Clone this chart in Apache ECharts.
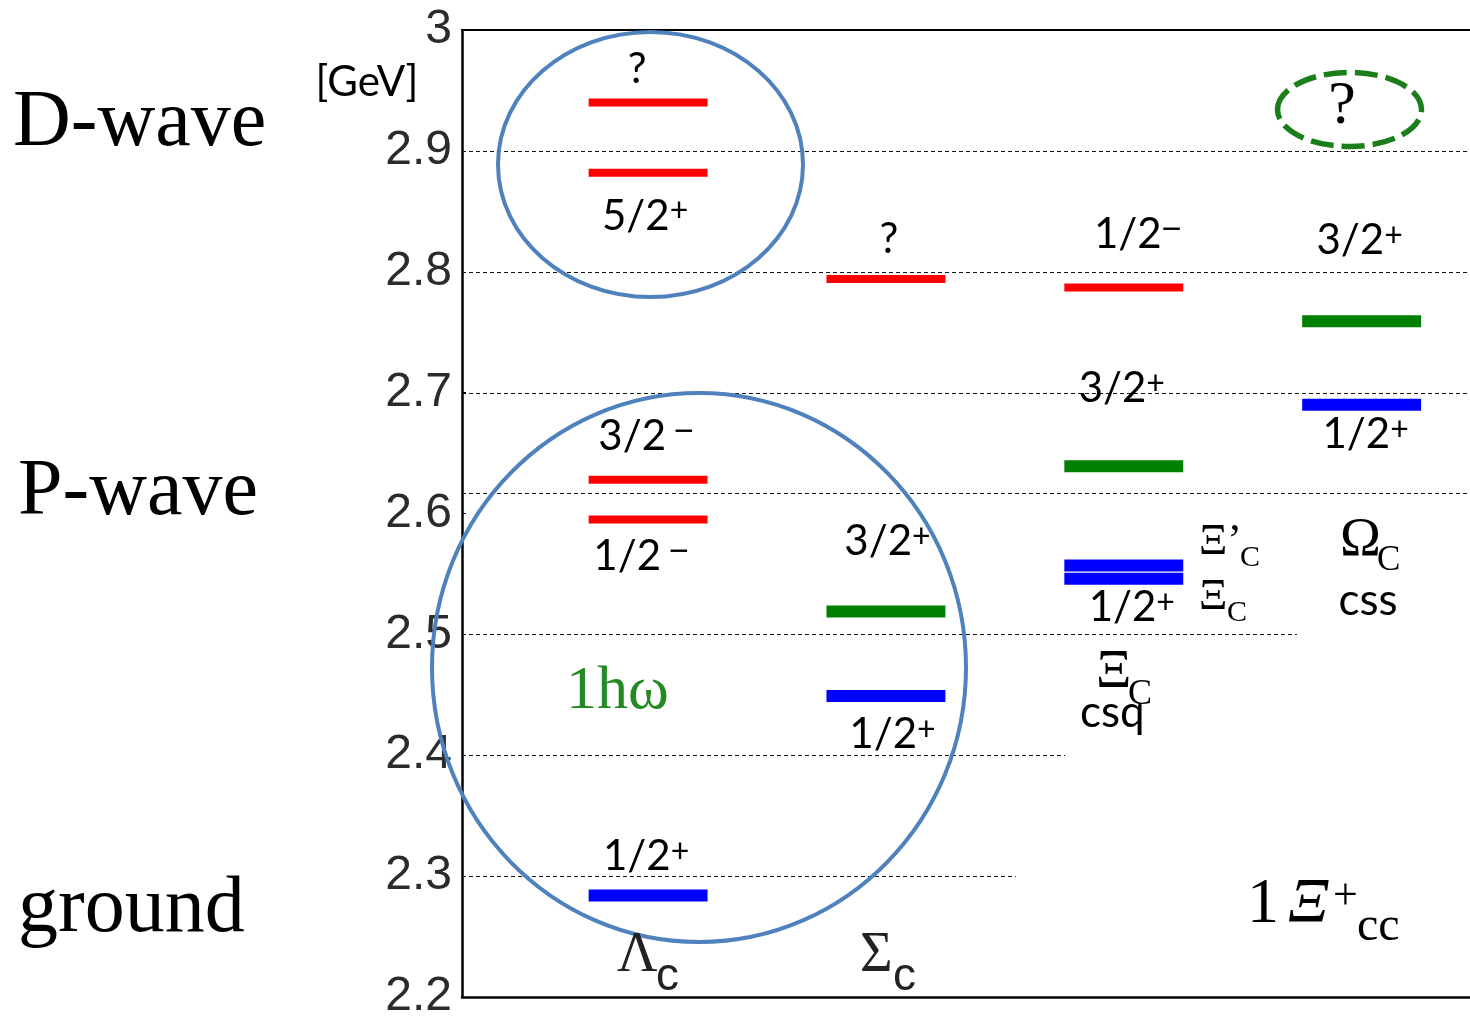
<!DOCTYPE html>
<html><head><meta charset="utf-8">
<script src="https://cdn.jsdelivr.net/npm/echarts@6/dist/echarts.min.js"></script>
<style>html,body{margin:0;padding:0;background:#fff}#c{width:1470px;height:1016px}</style>
</head><body><div id="c"></div>
<script>
// ---------- DATA ----------
const species = ['Λ', 'Σ', 'Ξ', 'Ω'];
const speciesSub = ['c', 'c', 'C', 'C'];
const yTicks = [2.2, 2.3, 2.4, 2.5, 2.6, 2.7, 2.8, 2.9, 3.0];
// energy levels [GeV]
const levelSpecies = [0, 0, 0, 0, 0, 1, 1, 1, 2, 2, 2, 2, 3, 3];
const levelMass = [2.284, 2.595, 2.628, 2.882, 2.940, 2.449, 2.519, 2.794, 2.546, 2.557, 2.639, 2.787, 2.690, 2.759];
const levelKind = ['b', 'r', 'r', 'r', 'r', 'b', 'g', 'r', 'b', 'b', 'g', 'r', 'b', 'g'];
const levelSpin = ['1/2', '1/2', '3/2', '5/2', '?', '1/2', '3/2', '?', '1/2', '', '3/2', '1/2', '1/2', '3/2'];
const levelParity = ['+', '−', '−', '+', '', '+', '+', '', '+', '', '+', '−', '+', '+'];
// dashed reference lines and their right ends (x axis units)
const refLevels = [2.9, 2.8, 2.7, 2.617, 2.5, 2.4, 2.3];
const refEnds = [3.455, 3.455, 3.455, 3.455, 2.728, 1.753, 1.546];

// ---------- STYLE / LAYOUT ----------
const kindColor = { r: '#ff0000', g: '#008000', b: '#0000ff' };
const kindThick = { r: 8, g: 12, b: 12 };
const labelDx = [-2, -7, -2, -3, -11, 6.5, 1.5, 3, 8, 0, -2, 14, 4, -2];
const labelDy = [-39, 37, -43.5, 43.5, -33, 38.5, -69.5, -40, 29, 0, -78, -53, 30, -81];
const parityGap = [0, 1, 1, 0, 0, 0, 0, 0, 0, 0, 0, 0, 0, 0];
const X_MIN = -0.7824, X_MAX = 3.4556;
const BAR_W = 0.5;
const SERIF = '"Liberation Serif", "DejaVu Serif", serif';
const SANS = 'Lato, "Open Sans", sans-serif';
const ASANS = '"Liberation Sans", Arial, sans-serif';

const chart = echarts.init(document.getElementById('c'), null, { renderer: 'canvas' });

const levelData = levelMass.map((m, i) => [levelSpecies[i], m]);
const refData = refLevels.map((v, i) => [v, refEnds[i]]);

function txt(text, x, y, size, family, extra) {
  return {
    type: 'text', x: x, y: y, z: 100, silent: true,
    style: Object.assign({ text: text, fontSize: size, fontFamily: family, fill: '#000', align: 'left', verticalAlign: 'middle' }, extra || {})
  };
}

const supBase = { fontSize: 32, lineHeight: 32, verticalAlign: 'top', fill: '#000', color: '#000' };

const option = {
  backgroundColor: '#fff',
  animation: false,
  grid: { left: 462, right: 0, top: 30, bottom: 19, containLabel: false, outerBoundsMode: 'none' },
  xAxis: [
    { type: 'value', min: X_MIN, max: X_MAX, position: 'bottom',
      axisLine: { show: true, onZero: false, lineStyle: { color: '#000', width: 2.5 } },
      axisTick: { show: false }, axisLabel: { show: false }, splitLine: { show: false } },
    { type: 'value', min: X_MIN, max: X_MAX, position: 'top',
      axisLine: { show: true, onZero: false, lineStyle: { color: '#000', width: 2 } },
      axisTick: { show: false }, axisLabel: { show: false }, splitLine: { show: false } }
  ],
  yAxis: {
    type: 'value', min: yTicks[0], max: yTicks[yTicks.length - 1], interval: 0.1, position: 'left',
    axisLine: { show: true, onZero: false, lineStyle: { color: '#000', width: 2.5 } },
    axisTick: { show: true, inside: true, length: 4, lineStyle: { color: '#000', width: 1 } },
    axisLabel: {
      margin: 10, fontSize: 48, fontFamily: ASANS, color: '#2b2b2b',
      formatter: v => (Math.abs(v - 3) < 1e-9 ? '3' : v.toFixed(1))
    },
    splitLine: { show: false }
  },
  series: [
    {
      type: 'custom', name: 'ref', z: 1, silent: true,
      data: refData,
      renderItem: function (params, api) {
        const v = api.value(0), end = api.value(1);
        const p0 = api.coord([X_MIN, v]);
        const p1 = api.coord([end, v]);
        const y = Math.round(p0[1]) + 0.5;
        return { type: 'line', shape: { x1: p0[0], y1: y, x2: p1[0], y2: y },
          style: { stroke: '#111', lineWidth: 1, lineDash: [4, 3] } };
      }
    },
    {
      type: 'custom', name: 'levels', z: 5, silent: true,
      data: levelData,
      renderItem: function (params, api) {
        const i = params.dataIndex;
        const c = api.coord([api.value(0), api.value(1)]);
        const w = api.size([BAR_W, 0])[0];
        const k = levelKind[i];
        const t = kindThick[k];
        const children = [{
          type: 'rect', shape: { x: c[0] - w / 2, y: c[1] - t / 2, width: w, height: t },
          style: { fill: kindColor[k] }
        }];
        if (levelSpin[i]) {
          let s = '{m|' + levelSpin[i] + '}';
          const p = levelParity[i];
          if (p) {
            const key = (p === '+' ? 'p' : 'n') + (parityGap[i] ? 'g' : '');
            s += '{' + key + '|' + p + '}';
          }
          children.push({
            type: 'text', x: c[0] + labelDx[i], y: c[1] + labelDy[i],
            style: {
              text: s, fill: '#000', align: 'center', verticalAlign: 'middle',
              rich: {
                m: { fontFamily: SANS, fontSize: 42, lineHeight: 42, fill: '#000', color: '#000' },
                p: Object.assign({ fontFamily: SANS }, supBase),
                n: { fontFamily: ASANS, fontSize: 34, lineHeight: 34, verticalAlign: 'top', fill: '#000', color: '#000' },
                ng: { fontFamily: ASANS, fontSize: 34, lineHeight: 34, verticalAlign: 'top', padding: [0, 0, 0, 8], fill: '#000', color: '#000' }
              }
            }
          });
        }
        return { type: 'group', children: children };
      }
    }
  ],
  graphic: [
    // ellipses
    { type: 'ellipse', z: 50, silent: true, shape: { cx: 650.5, cy: 164.5, rx: 152.5, ry: 132.5 },
      style: { fill: 'none', stroke: '#4f81bd', lineWidth: 4 } },
    { type: 'ellipse', z: 50, silent: true, shape: { cx: 699, cy: 667.5, rx: 267, ry: 274.5 },
      style: { fill: 'none', stroke: '#4f81bd', lineWidth: 4 } },
    { type: 'ellipse', z: 50, silent: true, shape: { cx: 1349.5, cy: 109.5, rx: 72, ry: 37 },
      style: { fill: 'none', stroke: '#1a7f1a', lineWidth: 5.5, lineDash: [23, 8] } },
    // left titles
    txt('D-wave', 13, 124, 80, SERIF),
    txt('P-wave', 18, 493, 80, SERIF),
    txt('ground', 18, 910, 80, SERIF),
    txt('[GeV]', 367, 82, 42, SANS, { align: 'center' }),
    txt('1hω', 566, 692, 62, SERIF, { fill: '#238a23' }),
    txt('?', 1342, 107, 62, SERIF, { align: 'center' }),
    // species labels
    txt(species[0], 617, 956, 56, SERIF, { fill: '#222' }),
    txt(speciesSub[0], 656, 977, 46, ASANS, { fill: '#222' }),
    txt(species[1], 860, 956, 56, SERIF, { fill: '#222' }),
    txt(speciesSub[1], 893, 977, 46, ASANS, { fill: '#222' }),
    txt(species[2] + '’', 1199, 542, 44, SERIF),
    txt(speciesSub[2], 1240, 558, 30, SERIF),
    txt(species[2], 1199, 597, 44, SERIF),
    txt(speciesSub[2], 1227, 613, 30, SERIF),
    txt(species[3], 1340, 541, 55, SERIF),
    txt(speciesSub[3], 1377, 561, 35, SERIF),
    txt('css', 1368, 601, 44, SANS, { align: 'center' }),
    txt(species[2], 1096, 673, 55, SERIF),
    txt(speciesSub[2], 1128, 695, 36, SERIF),
    txt('csq', 1080, 713, 44, SANS),
    txt('1', 1247, 905, 64, SERIF),
    txt('Ξ', 1288, 905, 64, SERIF, { fontStyle: 'italic' }),
    txt('+', 1333, 897, 44, SERIF),
    txt('cc', 1357, 927, 48, SERIF)
  ]
};
chart.setOption(option);
</script>
</body></html>
